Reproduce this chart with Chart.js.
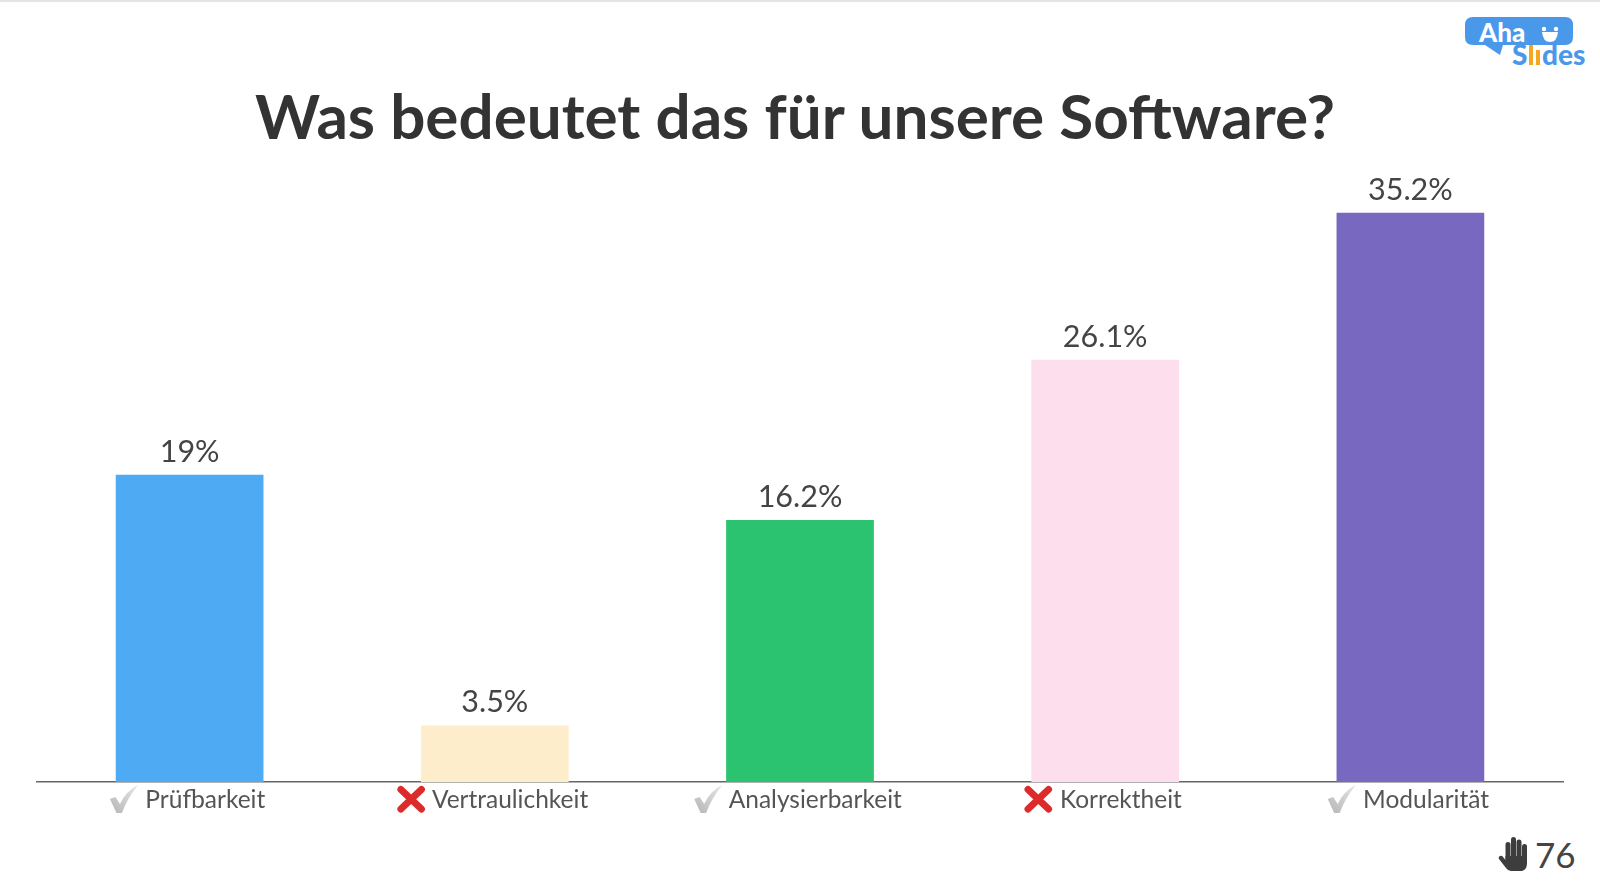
<!DOCTYPE html>
<html lang="de">
<head>
    <meta charset="UTF-8">
    <title>Was bedeutet das für unsere Software?</title>
    <script src="https://cdn.jsdelivr.net/npm/chart.js"></script>
    <style>
        html, body { margin: 0; padding: 0; background: #fff; }
        body { width: 1600px; height: 894px; position: relative; overflow: hidden; font-family: Lato, sans-serif; }
        #topLine { position: absolute; left: 0; top: 0; width: 1600px; height: 2px; background: #e4e4e4; }
        #chartBox { position: absolute; left: 0; top: 0; width: 1600px; height: 894px; }
        h1 { position: absolute; left: 0; top: 78px; width: 1590px; margin: 0; text-align: center; font-size: 62px; line-height: 74px; font-weight: 700; color: #333; }
        #logo { position: absolute; left: 1465px; top: 17px; width: 124px; height: 54px; }
        #count { position: absolute; left: 1498px; top: 832px; display: flex; align-items: center; color: #444; font-size: 35px; line-height: 44px; }
    </style>
</head>
<body>
    <div id="topLine"></div>
    <h1>Was bedeutet das für unsere Software?</h1>
    <svg id="logo" viewBox="0 0 124 54">
        <path d="M8 0H100Q108 0 108 8V20Q108 28 100 28H38L35 38L20 28H8Q0 28 0 20V8Q0 0 8 0Z" fill="#4a98ea"/>
        <text x="14" y="25" font-family="Lato" font-weight="900" font-size="26" fill="#fff">Aha</text>
        <path d="M77 15H93Q92 25 85 25Q78 25 77 15Z" fill="#fff"/>
        <circle cx="79" cy="12" r="2.200" fill="#fff"/><circle cx="91" cy="12" r="2.200" fill="#fff"/>
        <text x="47" y="48" font-family="Lato" font-weight="900" font-size="28" fill="#4a98ea">S</text>
        <rect x="64" y="28" width="4" height="20" fill="#f5a623"/><rect x="71" y="33" width="4" height="15" fill="#f5a623"/>
        <text x="77" y="48" font-family="Lato" font-weight="900" font-size="28" fill="#4a98ea">des</text>
    </svg>
    <div id="count">
        <svg width="32" height="36" viewBox="0 0 32 36" style="margin-right:5px">
            <g fill="#3d3d3d">
                <rect x="7.500" y="6" width="5" height="20" rx="2.500"/><rect x="13" y="1" width="5" height="24" rx="2.500"/>
                <rect x="18.500" y="3.500" width="5" height="22" rx="2.500"/><rect x="24" y="8" width="5" height="20" rx="2.500"/>
                <path d="M7.500 20H29V27Q29 35 22 35H13Q10 35 8 32L1 23Q0 21 2 20Q4 19 5 21L7.500 24Z"/>
            </g>
        </svg>
        <span>76</span>
    </div>
    <div id="chartBox"><canvas id="answerChart"></canvas></div>

    <script>
        const categories = ['Prüfbarkeit', 'Vertraulichkeit', 'Analysierbarkeit', 'Korrektheit', 'Modularität'];
        const values = [19, 3.5, 16.2, 26.1, 35.2];
        const valueLabels = ['19%', '3.5%', '16.2%', '26.1%', '35.2%'];
        const answerMarks = ['check', 'cross', 'check', 'cross', 'check'];
        const barColors = ['#4eaaf2', '#feedcb', '#2bc270', '#fddeec', '#7868c0'];

        const tickFont = '24.5px Lato';
        const iconGap = '\u00a0\u00a0\u00a0\u00a0\u00a0';

        function drawCheck(ctx, x, y) {
            const grad = ctx.createLinearGradient(x, y + 28, x + 28, y);
            grad.addColorStop(0, '#b5b5b5');
            grad.addColorStop(1, '#e6e6e6');
            ctx.fillStyle = grad;
            ctx.beginPath();
            ctx.moveTo(x, y + 14);
            ctx.lineTo(x + 5.5, y + 12);
            ctx.lineTo(x + 10, y + 19);
            ctx.quadraticCurveTo(x + 16, y + 6, x + 28, y);
            ctx.quadraticCurveTo(x + 17, y + 14, x + 12, y + 28);
            ctx.lineTo(x + 6.5, y + 28);
            ctx.closePath();
            ctx.fill();
        }

        function drawCross(ctx, x, y) {
            ctx.strokeStyle = '#dd2b2b';
            ctx.lineWidth = 7;
            ctx.lineCap = 'round';
            ctx.beginPath();
            ctx.moveTo(x + 3.5, y + 3.5);
            ctx.lineTo(x + 24, y + 23);
            ctx.moveTo(x + 24, y + 3.5);
            ctx.lineTo(x + 3.5, y + 23);
            ctx.stroke();
        }

        // value labels over the bars and the check / cross in front of the tick labels
        const barExtras = {
            id: 'barExtras',
            afterDatasetsDraw(chart) {
                const ctx = chart.ctx;
                const xScale = chart.scales.x;
                const bars = chart.getDatasetMeta(0).data;
                ctx.save();
                ctx.font = '30.5px Lato';
                ctx.fillStyle = '#444';
                ctx.textAlign = 'center';
                ctx.textBaseline = 'alphabetic';
                bars.forEach((bar, i) => {
                    ctx.fillText(valueLabels[i], bar.x, bar.y - 13);
                });
                ctx.font = tickFont;
                categories.forEach((name, i) => {
                    const w = ctx.measureText(iconGap + name).width;
                    const left = xScale.getPixelForTick(i) - w / 2 - 4;
                    if (answerMarks[i] === 'check') drawCheck(ctx, left, xScale.top + 3);
                    else drawCross(ctx, left, xScale.top + 4);
                });
                ctx.restore();
            }
        };

        new Chart(document.getElementById('answerChart'), {
            type: 'bar',
            data: {
                labels: categories.map(name => iconGap + name),
                datasets: [{
                    data: values,
                    backgroundColor: barColors,
                    barPercentage: 0.484,
                    categoryPercentage: 1
                }]
            },
            options: {
                responsive: true,
                maintainAspectRatio: false,
                animation: false,
                layout: { padding: { left: 37, right: 37, top: 135, bottom: 72 } },
                plugins: { legend: { display: false }, tooltip: { enabled: false } },
                scales: {
                    x: {
                        grid: { display: false, drawTicks: false },
                        border: { color: '#666', width: 1.5 },
                        ticks: { color: '#555', font: { family: 'Lato', size: 24.5 }, padding: 3, maxRotation: 0 },
                        afterFit(scale) { scale.height = 40; }
                    },
                    y: { display: false, min: 0, max: 40 }
                }
            },
            plugins: [barExtras]
        });
    </script>
</body>
</html>
